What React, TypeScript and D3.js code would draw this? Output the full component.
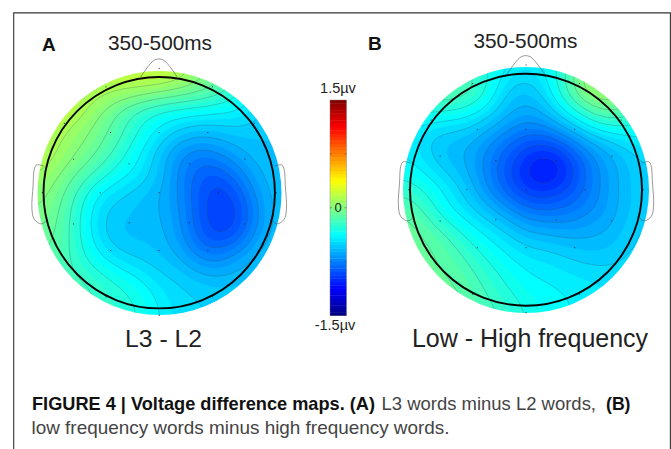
import React from "react";
import * as d3 from "d3";

const FONT = "'Liberation Sans', Arial, sans-serif";

// Potential difference (µV) on a 13x13 grid across each coloured disc
const gridA: number[][] = [
  [0.16, 0.16, 0.16, 0.18, 0.20, 0.24, 0.26, 0.20, 0.05, -0.05, -0.20, -0.30, -0.40],
  [0.20, 0.20, 0.18, 0.15, 0.12, 0.08, 0.03, -0.02, -0.08, -0.15, -0.30, -0.40, -0.50],
  [0.22, 0.22, 0.15, 0.02, -0.13, -0.25, -0.33, -0.36, -0.38, -0.40, -0.42, -0.50, -0.55],
  [0.22, 0.12, 0.05, -0.05, -0.15, -0.30, -0.42, -0.52, -0.57, -0.55, -0.52, -0.55, -0.55],
  [0.20, 0.10, 0.00, -0.10, -0.25, -0.40, -0.55, -0.69, -0.74, -0.69, -0.61, -0.55, -0.55],
  [0.12, 0.02, -0.10, -0.22, -0.35, -0.42, -0.55, -0.72, -0.85, -0.85, -0.72, -0.59, -0.55],
  [0.05, -0.05, -0.22, -0.42, -0.48, -0.55, -0.59, -0.72, -0.87, -0.96, -0.84, -0.63, -0.55],
  [0.00, -0.08, -0.28, -0.48, -0.54, -0.56, -0.59, -0.69, -0.87, -0.97, -0.90, -0.67, -0.55],
  [-0.05, -0.10, -0.28, -0.48, -0.56, -0.56, -0.57, -0.68, -0.85, -0.95, -0.85, -0.63, -0.55],
  [-0.10, -0.12, -0.26, -0.40, -0.50, -0.53, -0.55, -0.61, -0.75, -0.76, -0.66, -0.57, -0.55],
  [-0.12, -0.15, -0.20, -0.28, -0.35, -0.42, -0.50, -0.52, -0.59, -0.61, -0.57, -0.55, -0.55],
  [-0.15, -0.15, -0.15, -0.20, -0.27, -0.32, -0.43, -0.48, -0.50, -0.52, -0.52, -0.55, -0.55],
  [-0.15, -0.15, -0.18, -0.22, -0.25, -0.30, -0.40, -0.48, -0.50, -0.50, -0.52, -0.55, -0.55],
];

const gridB: number[][] = [
  [-0.10, -0.10, -0.15, -0.20, -0.30, -0.38, -0.42, -0.40, -0.20, 0.00, 0.10, 0.05, 0.00],
  [-0.10, -0.10, -0.10, -0.10, -0.25, -0.50, -0.55, -0.45, -0.15, 0.12, 0.10, 0.05, 0.00],
  [-0.25, -0.25, -0.25, -0.30, -0.40, -0.55, -0.62, -0.55, -0.35, -0.15, -0.02, -0.10, -0.20],
  [-0.40, -0.45, -0.50, -0.50, -0.58, -0.68, -0.75, -0.72, -0.60, -0.45, -0.35, -0.35, -0.35],
  [-0.40, -0.48, -0.57, -0.60, -0.70, -0.82, -0.92, -0.98, -0.87, -0.70, -0.60, -0.50, -0.45],
  [-0.35, -0.42, -0.52, -0.58, -0.72, -0.87, -1.02, -1.10, -1.00, -0.78, -0.65, -0.55, -0.50],
  [-0.22, -0.30, -0.40, -0.52, -0.68, -0.84, -0.96, -0.98, -0.90, -0.78, -0.65, -0.55, -0.50],
  [-0.10, -0.20, -0.38, -0.45, -0.55, -0.65, -0.78, -0.80, -0.78, -0.72, -0.65, -0.55, -0.50],
  [-0.05, -0.10, -0.20, -0.33, -0.42, -0.50, -0.60, -0.62, -0.65, -0.62, -0.60, -0.52, -0.48],
  [-0.05, -0.08, -0.12, -0.22, -0.33, -0.40, -0.47, -0.48, -0.52, -0.55, -0.55, -0.50, -0.48],
  [-0.05, -0.07, -0.10, -0.15, -0.25, -0.33, -0.40, -0.42, -0.45, -0.47, -0.48, -0.47, -0.46],
  [-0.05, -0.05, -0.07, -0.10, -0.20, -0.28, -0.35, -0.38, -0.40, -0.42, -0.45, -0.45, -0.45],
  [-0.05, -0.05, -0.07, -0.10, -0.15, -0.22, -0.30, -0.35, -0.40, -0.42, -0.45, -0.45, -0.45],
];

// Electrode sites in head-radius units
const electrodes: [number, number][] = [
  [0, -1.075], [-0.46, -0.915], [0.46, -0.915], [-0.82, -0.6], [0.82, -0.6],
  [-0.42, -0.52], [0, -0.52], [0.42, -0.52], [-0.74, -0.29], [0.74, -0.29],
  [-0.26, -0.25], [0.26, -0.25], [-1.01, 0], [1.01, 0], [-0.51, 0], [0, 0], [0.51, 0],
  [-0.74, 0.27], [0.74, 0.27], [-0.26, 0.26], [0.26, 0.26], [-0.42, 0.5], [0, 0.5], [0.42, 0.5],
  [-0.82, 0.58], [0.82, 0.58], [-0.46, 0.9], [0.46, 0.9], [0, 1.06],
];

const noseShape: [number, number][] = [[-0.16, -1.0], [-0.04, -1.147], [0.035, -1.147], [0.155, -1.0]];
const earShape: [number, number][] = [
  [-0.997, -0.23], [-1.06, -0.24], [-1.08, -0.2], [-1.09, -0.06], [-1.1, 0.14], [-1.08, 0.23], [-1.02, 0.27], [-0.98, 0.245],
];

const colorTicks = [-0.75, 0, 0.75];
const colorDomain: [number, number] = [-1.5, 1.5];

const clamp = (v: number) => Math.max(0, Math.min(1, v));
function jet(t: number) {
  const r = clamp(1.5 - Math.abs(4 * t - 3));
  const g = clamp(1.5 - Math.abs(4 * t - 2));
  const b = clamp(1.5 - Math.abs(4 * t - 1));
  return d3.rgb(r * 255, g * 255, b * 255).formatHex();
}
const tScale = d3.scaleLinear().domain(colorDomain).range([0, 1]).clamp(true);
const colorOf = (v: number) => jet(tScale(v));

const UP = 10;
function cubic(p0: number, p1: number, p2: number, p3: number, t: number) {
  return 0.5 * (2 * p1 + (p2 - p0) * t + (2 * p0 - 5 * p1 + 4 * p2 - p3) * t * t + (3 * p1 - p0 - 3 * p2 + p3) * t * t * t);
}
function upsampleLine(a: number[]) {
  const out: number[] = [];
  const m = a.length;
  for (let i = 0; i < m - 1; i++) {
    for (let k = 0; k < UP; k++) {
      out.push(cubic(a[Math.max(0, i - 1)], a[i], a[i + 1], a[Math.min(m - 1, i + 2)], k / UP));
    }
  }
  out.push(a[m - 1]);
  return out;
}
function upsample(g: number[][]) {
  const rows = g.map(upsampleLine);
  const n = rows[0].length;
  const cols = d3.range(n).map((x) => upsampleLine(rows.map((r) => r[x])));
  const vals: number[] = [];
  for (let y = 0; y < n; y++) for (let x = 0; x < n; x++) vals.push(cols[x][y]);
  d3.blur2({ data: vals, width: n, height: n }, 5);
  return { vals, n };
}

const FILL_STEP = 0.05;
const LINE_STEP = 0.1;

function Head({ id, grid, cx, cy, discR, headR, hcx, hcy }: any) {
  const { vals, n } = upsample(grid);
  const sx = d3.scaleLinear().domain([0.5, n - 0.5]).range([cx - discR, cx + discR]);
  const sy = d3.scaleLinear().domain([0.5, n - 0.5]).range([cy - discR, cy + discR]);
  const proj = d3.geoTransform({
    point(x: number, y: number) {
      (this as any).stream.point(sx(x), sy(y));
    },
  });
  const path = d3.geoPath(proj);
  const fillLevels = d3.range(-1.5, 1.5, FILL_STEP);
  const lineLevels = d3.range(-1.0, 0.3, LINE_STEP);
  const fills = d3.contours().size([n, n]).smooth(true).thresholds(fillLevels)(vals);
  const lines = d3.contours().size([n, n]).smooth(true).thresholds(lineLevels)(vals);
  const ux = d3.scaleLinear().domain([-1, 1]).range([hcx - headR, hcx + headR]);
  const uy = d3.scaleLinear().domain([-1, 1]).range([hcy - headR, hcy + headR]);
  const outline = d3.line<[number, number]>().x((d) => ux(d[0])).y((d) => uy(d[1])).curve(d3.curveCatmullRom);
  const earR = earShape.map(([x, y]) => [-x, y] as [number, number]);
  return (
    <g>
      <defs>
        <clipPath id={id}>
          <circle cx={cx} cy={cy} r={discR} />
        </clipPath>
      </defs>
      <g clipPath={`url(#${id})`}>
        <g filter="url(#soft)">
          <rect x={cx - discR} y={cy - discR} width={discR * 2} height={discR * 2} fill={colorOf(d3.min(vals) as number)} />
          {fills.map((c, i) => (
            <path key={i} d={path(c as any) || ""} fill={colorOf(c.value + FILL_STEP / 2)} />
          ))}
        </g>
        {lines.map((c, i) => (
          <path key={i} d={path(c as any) || ""} fill="none" stroke="#3c5560" strokeOpacity={0.55} strokeWidth={0.5} />
        ))}
      </g>
      <path d={outline(noseShape) || ""} fill="none" stroke="#555" strokeWidth={0.6} />
      <path d={outline(earShape) || ""} fill="none" stroke="#555" strokeWidth={0.6} />
      <path d={outline(earR) || ""} fill="none" stroke="#555" strokeWidth={0.6} />
      {electrodes.map(([x, y], i) => (
        <rect key={i} x={ux(x) - 0.5} y={uy(y) - 0.5} width={1} height={1} fill="#223" />
      ))}
      <circle cx={hcx} cy={hcy} r={headR} fill="none" stroke="#050505" strokeWidth={1.9} />
    </g>
  );
}

function ColorBar() {
  const x0 = 330, x1 = 346.5, y0 = 100, y1 = 315.5;
  const y = d3.scaleLinear().domain(colorDomain).range([y1, y0]);
  const levels = d3.range(-1.5, 1.5, 3 / 64);
  return (
    <g>
      {levels.map((v, i) => (
        <rect key={i} x={x0} y={y(v + 3 / 64)} width={x1 - x0} height={y(v) - y(v + 3 / 64) + 0.4} fill={colorOf(v + 1.5 / 64)} />
      ))}
      <rect x={x0} y={y0} width={x1 - x0} height={y1 - y0} fill="none" stroke="#777" strokeWidth={0.4} />
      {colorTicks.map((t) => (
        <g key={t} stroke="#444" strokeWidth={0.5}>
          <line x1={x0} x2={x0 + 2} y1={y(t)} y2={y(t)} />
          <line x1={x1 - 2} x2={x1} y1={y(t)} y2={y(t)} />
        </g>
      ))}
      <text x={338} y={212} textAnchor="middle" fontSize={13} fill="#222">0</text>
      <text x={338} y={93} textAnchor="middle" fontSize={14.5} fill="#222">1.5µv</text>
      <text x={335} y={330} textAnchor="middle" fontSize={14.5} fill="#222">-1.5µv</text>
    </g>
  );
}

export default function App() {
  return (
    <svg width={671} height={449} style={{ position: "fixed", left: 0, top: 0, background: "#fff" }} fontFamily={FONT}>
      <defs>
        <filter id="soft" x="-5%" y="-5%" width="110%" height="110%">
          <feGaussianBlur stdDeviation={0.45} />
        </filter>
      </defs>
      <path d="M13.7 449V12.9H670.4V449" fill="none" stroke="#333" strokeWidth={1.1} />
      <Head id="a" grid={gridA} cx={159.5} cy={193} discR={122} headR={115.7} hcx={159.2} hcy={192.7} />
      <Head id="b" grid={gridB} cx={526} cy={190} discR={123} headR={116} hcx={526} hcy={189.7} />
      <ColorBar />
      <text x={42} y={50.5} fontSize={19} fontWeight={700} fill="#111">A</text>
      <text x={368} y={50} fontSize={19} fontWeight={700} fill="#111">B</text>
      <text x={160} y={50} textAnchor="middle" fontSize={20.8} fill="#222">350-500ms</text>
      <text x={525.5} y={48} textAnchor="middle" fontSize={20.8} fill="#222">350-500ms</text>
      <text x={163.5} y={346.5} textAnchor="middle" fontSize={24.7} fill="#222">L3 - L2</text>
      <text x={530} y={346.5} textAnchor="middle" fontSize={25} fill="#222">Low - High frequency</text>
      <text x={32} y={410} fontSize={18.5} fontWeight={700} fill="#111" textLength={343} lengthAdjust="spacingAndGlyphs">FIGURE 4 | Voltage difference maps. (A)</text>
      <text x={381.5} y={410} fontSize={18.5} fill="#444" textLength={214.5} lengthAdjust="spacingAndGlyphs">L3 words minus L2 words,</text>
      <text x={606} y={410} fontSize={18.5} fontWeight={700} fill="#111" textLength={24.5} lengthAdjust="spacingAndGlyphs">(B)</text>
      <text x={31.5} y={434} fontSize={18.5} fill="#444" textLength={418} lengthAdjust="spacingAndGlyphs">low frequency words minus high frequency words.</text>
    </svg>
  );
}
